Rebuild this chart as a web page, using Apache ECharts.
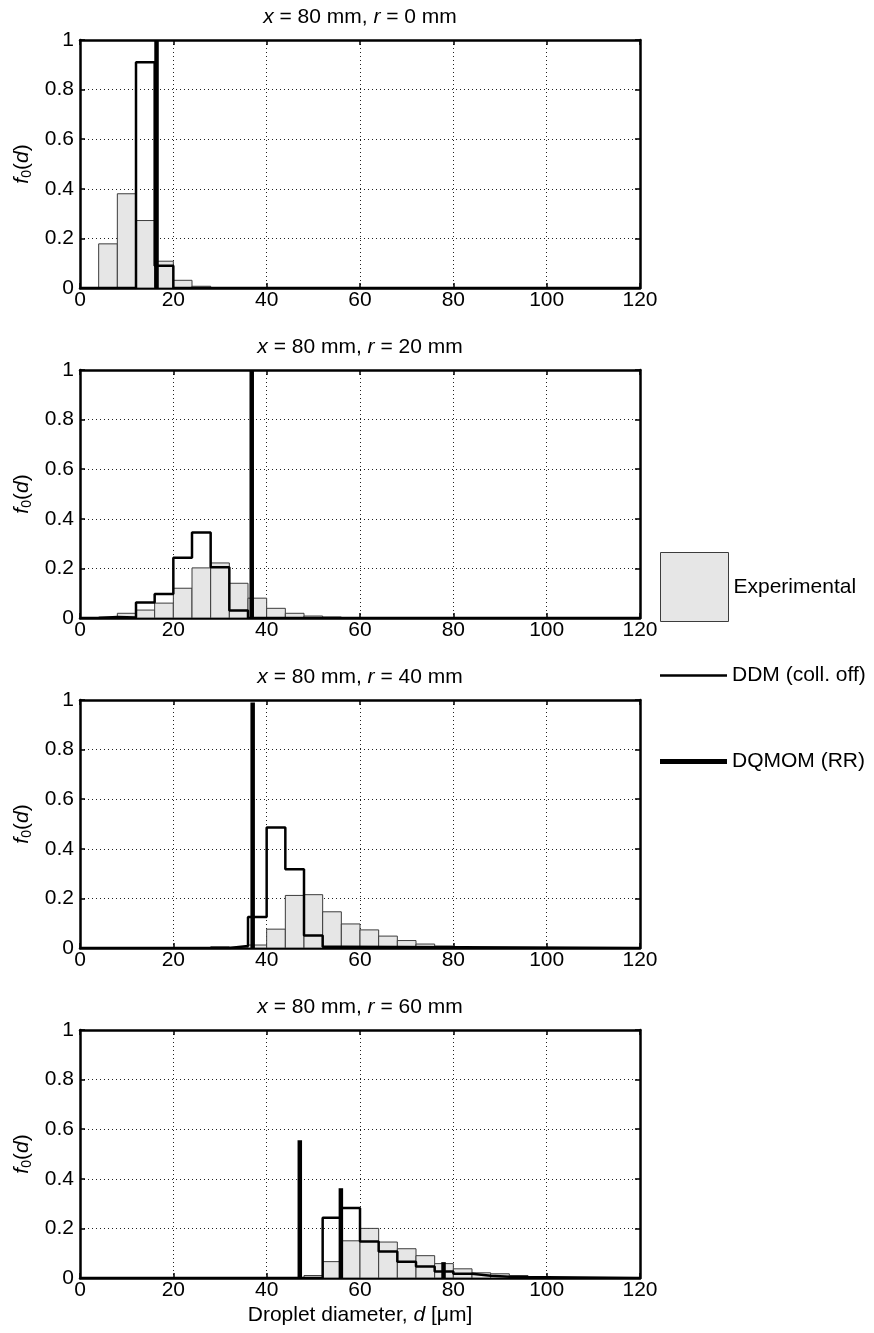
<!DOCTYPE html>
<html><head><meta charset="utf-8">
<script src="https://cdn.jsdelivr.net/npm/echarts@6/dist/echarts.min.js"></script>
<style>html,body{margin:0;padding:0;background:#fff}#c{width:874px;height:1333px}</style>
</head><body><div id="c"></div><script>
const FONT = 'Liberation Sans, Arial, Helvetica, sans-serif';
const FS = 21;

// axes
const xMin = 0, xMax = 120, xInterval = 20;
const yMin = 0, yMax = 1, yInterval = 0.2;
const binWidth = 4; // histogram bin width (µm)
const radii = [0, 20, 40, 60]; // r (mm) for each panel, x = 80 mm

// Panel 1 : r = 0 mm
const exp1Start = 4;
const exp1 = [0.178, 0.38, 0.272, 0.108, 0.031, 0.007];
const ddm1Start = 12;
const ddm1 = [0.91, 0.09];
const dq1D = [16.4];
const dq1H = [1.0];

// Panel 2 : r = 20 mm
const exp2Start = 4;
const exp2 = [0.004, 0.019, 0.032, 0.06, 0.12, 0.202, 0.222, 0.14, 0.08, 0.039, 0.019, 0.008, 0.004, 0.002];
const ddm2Start = 4;
const ddm2 = [0.004, 0.002, 0.062, 0.097, 0.243, 0.345, 0.205, 0.03];
const dq2D = [36.8];
const dq2H = [1.0];

// Panel 3 : r = 40 mm
const exp3Start = 28;
const exp3 = [0.005, 0.003, 0.012, 0.076, 0.212, 0.215, 0.146, 0.097, 0.073, 0.048, 0.03, 0.016, 0.008, 0.004];
const ddm3Start = 32;
const ddm3 = [0.008, 0.125, 0.486, 0.318, 0.05, 0.005];
const dq3D = [37.0];
const dq3H = [0.99];

// Panel 4 : r = 60 mm
const exp4Start = 48;
const exp4 = [0.01, 0.066, 0.15, 0.20, 0.145, 0.118, 0.09, 0.058, 0.037, 0.021, 0.017, 0.01, 0.002];
const ddm4Start = 52;
const ddm4 = [0.243, 0.282, 0.147, 0.107, 0.066, 0.046, 0.026, 0.017, 0.009, 0.005, 0.003, 0.003];
const dq4D = [47.1, 55.9, 77.9];
const dq4H = [0.555, 0.362, 0.064];

const panels = [
  {r: radii[0], expStart: exp1Start, exp: exp1, ddmStart: ddm1Start, ddm: ddm1, dqD: dq1D, dqH: dq1H},
  {r: radii[1], expStart: exp2Start, exp: exp2, ddmStart: ddm2Start, ddm: ddm2, dqD: dq2D, dqH: dq2H},
  {r: radii[2], expStart: exp3Start, exp: exp3, ddmStart: ddm3Start, ddm: ddm3, dqD: dq3D, dqH: dq3H},
  {r: radii[3], expStart: exp4Start, exp: exp4, ddmStart: ddm4Start, ddm: ddm4, dqD: dq4D, dqH: dq4H}
];

function toBins(start, vals) {
  return vals.map((v, i) => [start + i * binWidth, start + (i + 1) * binWidth, v]);
}
function toSteps(start, vals) {
  const pts = [[xMin, 0], [start, 0]];
  vals.forEach((v, i) => { pts.push([start + i * binWidth, v]); pts.push([start + (i + 1) * binWidth, v]); });
  const end = start + vals.length * binWidth;
  pts.push([end, 0]); pts.push([xMax, 0]);
  return pts;
}

const chart = echarts.init(document.getElementById('c'), null, {renderer: 'canvas'});

const grids = [], xAxes = [], yAxes = [], series = [];
const frame = {color: '#000', width: 2.5};
const tick = {show: true, inside: true, length: 5, lineStyle: {color: '#000', width: 1.5}};
const dotted = {show: true, lineStyle: {color: '#222', width: 1, type: [1, 3]}};
const italic = {fontStyle: 'italic', fontSize: FS, fontFamily: FONT, color: '#000'};

panels.forEach((p, k) => {
  grids.push({left: 80, top: 40 + 330 * k, width: 560, height: 248, outerBoundsMode: 'none', containLabel: false});
  // bottom x axis
  xAxes.push({
    gridIndex: k, type: 'value', min: xMin, max: xMax, interval: xInterval, position: 'bottom',
    axisLine: {onZero: false, lineStyle: frame}, axisTick: tick,
    axisLabel: {color: '#000', fontSize: FS, fontFamily: FONT, margin: 2},
    splitLine: dotted,
    name: k === 3 ? 'Droplet diameter, {i|d} [μm]' : '',
    nameLocation: 'middle', nameGap: 27,
    nameTextStyle: {color: '#000', fontSize: FS, fontFamily: FONT, rich: {i: italic}}
  });
  // top x axis (mirror frame + panel title)
  xAxes.push({
    gridIndex: k, type: 'value', min: xMin, max: xMax, interval: xInterval, position: 'top',
    axisLine: {onZero: false, lineStyle: frame}, axisTick: tick,
    axisLabel: {show: false}, splitLine: {show: false},
    name: '{i|x} = 80 mm, {i|r} = ' + p.r + ' mm',
    nameLocation: 'middle', nameGap: 12,
    nameTextStyle: {color: '#000', fontSize: FS, fontFamily: FONT, lineHeight: 21, rich: {i: italic}}
  });
  yAxes.push({
    gridIndex: k, type: 'value', min: yMin, max: yMax, interval: yInterval, position: 'left',
    axisLine: {onZero: false, lineStyle: frame}, axisTick: tick,
    axisLabel: {color: '#000', fontSize: FS, fontFamily: FONT, margin: 6},
    splitLine: dotted,
    name: '{i|f}{s|0}({i|d})', nameLocation: 'middle', nameRotate: 90, nameGap: 41,
    nameTextStyle: {color: '#000', fontSize: FS, fontFamily: FONT, lineHeight: 24,
      rich: {i: Object.assign({lineHeight: 24}, italic),
             s: {fontSize: 14, fontFamily: FONT, color: '#000', lineHeight: 12, verticalAlign: 'bottom'}}}
  });
  yAxes.push({
    gridIndex: k, type: 'value', min: yMin, max: yMax, interval: yInterval, position: 'right',
    axisLine: {onZero: false, lineStyle: frame}, axisTick: tick,
    axisLabel: {show: false}, splitLine: {show: false}
  });
  const xi = 2 * k, yi = 2 * k;
  series.push({
    name: 'Experimental', type: 'custom', xAxisIndex: xi, yAxisIndex: yi, clip: true,
    itemStyle: {color: '#e6e6e6', borderColor: '#3c3c3c'},
    data: toBins(p.expStart, p.exp), encode: {x: [0, 1], y: 2},
    renderItem: (params, api) => {
      const a = api.coord([api.value(0), api.value(2)]);
      const b = api.coord([api.value(1), 0]);
      return {type: 'rect', shape: {x: a[0], y: a[1], width: b[0] - a[0], height: b[1] - a[1]},
              style: {fill: '#e6e6e6', stroke: '#3c3c3c', lineWidth: 1}};
    },
    z: 2
  });
  series.push({
    name: 'DDM (coll. off)', type: 'line', xAxisIndex: xi, yAxisIndex: yi,
    data: toSteps(p.ddmStart, p.ddm), showSymbol: false, symbol: 'none',
    lineStyle: {color: '#000', width: 2.5}, itemStyle: {color: '#000'}, clip: true, z: 3,
    animation: false
  });
  series.push({
    name: 'DQMOM (RR)', type: 'custom', xAxisIndex: xi, yAxisIndex: yi, clip: true,
    itemStyle: {color: '#000'},
    data: p.dqD.map((d, i) => [d, p.dqH[i]]), encode: {x: 0, y: 1},
    renderItem: (params, api) => {
      const t = api.coord([api.value(0), Math.min(api.value(1), yMax)]);
      const b = api.coord([api.value(0), 0]);
      return {type: 'line', shape: {x1: t[0], y1: t[1], x2: b[0], y2: b[1]},
              style: {stroke: '#000', lineWidth: 4.5}};
    },
    z: 4
  });
});

const legendText = {color: '#000', fontSize: FS, fontFamily: FONT};
chart.setOption({
  animation: false,
  backgroundColor: '#fff',
  grid: grids, xAxis: xAxes, yAxis: yAxes, series: series,
  legend: [
    {data: ['Experimental'], left: 655, top: 547, icon: 'rect', itemWidth: 68, itemHeight: 69,
     selectedMode: false, textStyle: legendText,
     itemStyle: {color: '#e6e6e6', borderColor: '#3c3c3c', borderWidth: 1}},
    {data: ['DDM (coll. off)'], left: 655, top: 660, icon: 'rect', itemWidth: 67, itemHeight: 2.5,
     selectedMode: false, textStyle: legendText, itemStyle: {color: '#000', borderWidth: 0}},
    {data: ['DQMOM (RR)'], left: 655, top: 746, icon: 'rect', itemWidth: 67, itemHeight: 5,
     selectedMode: false, textStyle: legendText, itemStyle: {color: '#000', borderWidth: 0}}
  ]
});
</script></body></html>
